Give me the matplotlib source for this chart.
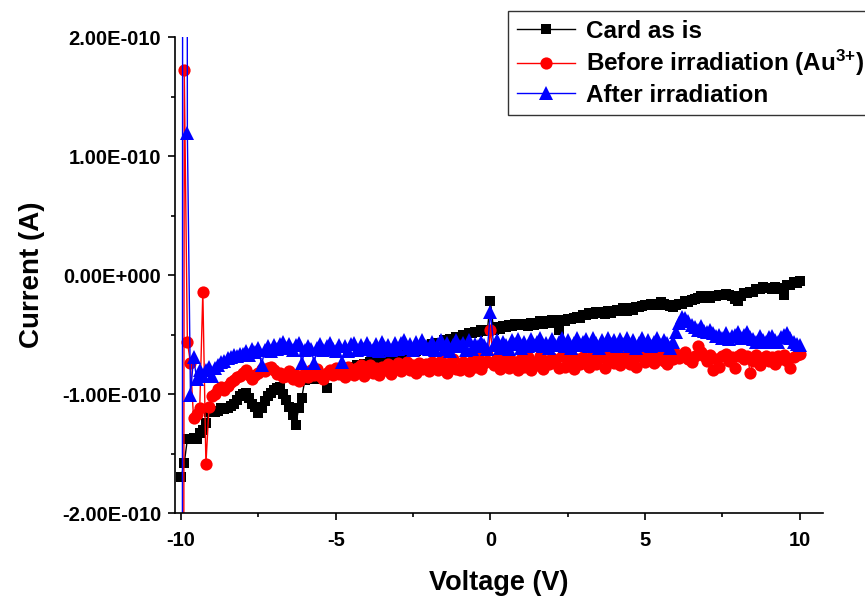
import numpy as np
import matplotlib
matplotlib.use("Agg")
import matplotlib.pyplot as plt
from matplotlib.ticker import MultipleLocator, FixedLocator, FixedFormatter

plt.rcParams['font.family'] = ['Liberation Sans', 'DejaVu Sans']
plt.rcParams['font.weight'] = 'bold'
plt.rcParams['mathtext.fontset'] = 'custom'
plt.rcParams['mathtext.rm'] = 'Liberation Sans:bold'
plt.rcParams['mathtext.bf'] = 'Liberation Sans:bold'
plt.rcParams['mathtext.default'] = 'bf'

# Voltage sweep, -10 V to +10 V in 0.1 V steps
voltage = np.round(np.arange(-100, 101) / 10.0, 1)

# Currents in units of 1e-10 A
card_as_is = [
    -1.70, -1.58, -1.38, -1.38, -1.37, -1.38, -1.33, -1.30, -1.24, -1.15,
    -1.14, -1.15, -1.14, -1.12, -1.13, -1.12, -1.10, -1.08, -1.05, -1.02,
    -1.00, -0.99, -1.03, -1.08, -1.11, -1.16, -1.12, -1.06, -1.02, -0.99,
    -0.97, -0.95, -0.94, -1.00, -1.05, -1.11, -1.18, -1.26, -1.12, -1.03,
    -0.88, -0.85, -0.86, -0.87, -0.85, -0.84, -0.86, -0.95, -0.84, -0.83,
    -0.82, -0.80, -0.81, -0.79, -0.80, -0.77, -0.78, -0.76, -0.77, -0.75,
    -0.75, -0.73, -0.74, -0.72, -0.73, -0.70, -0.71, -0.69, -0.70, -0.67,
    -0.68, -0.66, -0.67, -0.65, -0.65, -0.63, -0.64, -0.61, -0.62, -0.60,
    -0.60, -0.58, -0.59, -0.57, -0.57, -0.55, -0.56, -0.54, -0.54, -0.52,
    -0.52, -0.50, -0.51, -0.49, -0.49, -0.48, -0.48, -0.46, -0.47, -0.46,
    -0.22,
    -0.46, -0.44, -0.45, -0.43, -0.44, -0.42, -0.43, -0.41, -0.42, -0.42,
    -0.41, -0.43, -0.40, -0.42, -0.40, -0.39, -0.41, -0.39, -0.40, -0.38,
    -0.40, -0.46, -0.38, -0.39, -0.37, -0.37, -0.36, -0.35, -0.36, -0.34,
    -0.34, -0.32, -0.33, -0.31, -0.32, -0.31, -0.33, -0.30, -0.32, -0.30,
    -0.29, -0.30, -0.28, -0.30, -0.28, -0.29, -0.27, -0.27, -0.26, -0.25,
    -0.25, -0.24, -0.24, -0.25, -0.23, -0.24, -0.25, -0.26, -0.27, -0.25,
    -0.24, -0.24, -0.22, -0.23, -0.21, -0.20, -0.19, -0.18, -0.18, -0.19,
    -0.19, -0.18, -0.18, -0.17, -0.17, -0.16, -0.17, -0.18, -0.20, -0.22,
    -0.18, -0.15, -0.15, -0.14, -0.14, -0.12, -0.12, -0.10, -0.11, -0.11,
    -0.12, -0.10, -0.11, -0.12, -0.17, -0.08, -0.08, -0.06, -0.07, -0.05,
]

before_irradiation = [
    -25.0, 1.72, -0.56, -0.74, -1.20, -1.17, -1.12, -0.14, -1.59, -1.11,
    -1.02, -1.00, -0.96, -0.94, -0.97, -0.93, -0.90, -0.88, -0.86, -0.85,
    -0.82, -0.80, -0.84, -0.87, -0.84, -0.82, -0.79, -0.81, -0.78, -0.77,
    -0.80, -0.83, -0.82, -0.86, -0.85, -0.81, -0.87, -0.84, -0.89, -0.85,
    -0.82, -0.86, -0.80, -0.84, -0.79, -0.85, -0.87, -0.82, -0.80, -0.84,
    -0.78, -0.83, -0.79, -0.86, -0.77, -0.81, -0.84, -0.78, -0.76, -0.85,
    -0.79, -0.76, -0.82, -0.78, -0.84, -0.77, -0.80, -0.75, -0.83, -0.78,
    -0.74, -0.81, -0.77, -0.73, -0.80, -0.76, -0.82, -0.74, -0.79, -0.75,
    -0.81, -0.73, -0.77, -0.80, -0.72, -0.78, -0.82, -0.74, -0.71, -0.79,
    -0.80, -0.73, -0.76, -0.81, -0.72, -0.77, -0.70, -0.79, -0.74, -0.72,
    -0.46,
    -0.76, -0.70, -0.79, -0.73, -0.68, -0.78, -0.72, -0.75, -0.80, -0.71,
    -0.77, -0.69, -0.80, -0.73, -0.76, -0.68, -0.79, -0.72, -0.75, -0.70,
    -0.74, -0.78, -0.68, -0.77, -0.72, -0.67, -0.79, -0.71, -0.75, -0.69,
    -0.73, -0.77, -0.67, -0.75, -0.70, -0.66, -0.78, -0.71, -0.68, -0.74,
    -0.69, -0.76, -0.72, -0.66, -0.75, -0.70, -0.77, -0.68, -0.66, -0.73,
    -0.71, -0.66, -0.74, -0.69, -0.67, -0.72, -0.75, -0.68, -0.71, -0.66,
    -0.70, -0.67, -0.65, -0.71, -0.73, -0.68, -0.60, -0.65, -0.68, -0.72,
    -0.67, -0.80, -0.71, -0.77, -0.68, -0.66, -0.72, -0.69, -0.78, -0.68,
    -0.66, -0.71, -0.68, -0.82, -0.72, -0.67, -0.76, -0.70, -0.68, -0.72,
    -0.69, -0.75, -0.68, -0.71, -0.67, -0.72, -0.78, -0.69, -0.67, -0.66,
]

after_irradiation = [
    -30.0, 40.0, 1.19, -1.01, -0.69, -0.87, -0.80, -0.85, -0.80, -0.77,
    -0.85, -0.78, -0.76, -0.73, -0.72, -0.70, -0.69, -0.67, -0.68, -0.66,
    -0.66, -0.64, -0.67, -0.62, -0.65, -0.61, -0.76, -0.63, -0.60, -0.64,
    -0.59, -0.62, -0.58, -0.56, -0.61, -0.58, -0.63, -0.59, -0.57, -0.74,
    -0.63, -0.60, -0.62, -0.74, -0.61, -0.58, -0.63, -0.60, -0.57, -0.62,
    -0.64, -0.59, -0.73, -0.60, -0.64, -0.58, -0.57, -0.63, -0.59, -0.62,
    -0.57, -0.61, -0.63, -0.58, -0.64, -0.56, -0.61, -0.59, -0.63, -0.57,
    -0.62, -0.57, -0.55, -0.61, -0.58, -0.63, -0.56, -0.61, -0.55, -0.60,
    -0.62, -0.56, -0.63, -0.58, -0.55, -0.62, -0.57, -0.64, -0.59, -0.55,
    -0.60, -0.57, -0.63, -0.55, -0.62, -0.58, -0.60, -0.56, -0.59, -0.62,
    -0.31,
    -0.59, -0.55, -0.61, -0.56, -0.59, -0.62, -0.55, -0.58, -0.54, -0.61,
    -0.56, -0.60, -0.54, -0.59, -0.56, -0.53, -0.60, -0.57, -0.61, -0.54,
    -0.59, -0.56, -0.53, -0.60, -0.55, -0.61, -0.57, -0.53, -0.59, -0.56,
    -0.54, -0.60, -0.53, -0.57, -0.61, -0.55, -0.59, -0.53, -0.58, -0.55,
    -0.60, -0.54, -0.58, -0.53, -0.60, -0.55, -0.61, -0.57, -0.53, -0.59,
    -0.55, -0.60, -0.56, -0.53, -0.59, -0.55, -0.57, -0.61, -0.56, -0.48,
    -0.40, -0.35, -0.36, -0.39, -0.42, -0.44, -0.46, -0.43, -0.47, -0.48,
    -0.46, -0.49, -0.51, -0.50, -0.53, -0.49, -0.54, -0.51, -0.50, -0.48,
    -0.53, -0.50, -0.48, -0.52, -0.54, -0.56, -0.51, -0.55, -0.56, -0.52,
    -0.51, -0.55, -0.56, -0.52, -0.50, -0.49, -0.53, -0.56, -0.58, -0.59,
]

series_labels = ["Card as is", r"Before irradiation (Au$^{3{+}}$)", "After irradiation"]
current_unit = 1e-10

y_ticks = [-2e-10, -1e-10, 0.0, 1e-10, 2e-10]
y_tick_labels = ["-2.00E-010", "-1.00E-010", "0.00E+000", "1.00E-010", "2.00E-010"]
x_ticks = [-10, -5, 0, 5, 10]
x_tick_labels = ["-10", "-5", "0", "5", "10"]

fig = plt.figure(figsize=(8.65, 5.97), dpi=100)
ax = fig.add_axes([0.2023, 0.1407, 0.7491, 0.7973])

styles = [
    dict(color="black", marker="s", markersize=7.6),
    dict(color="red", marker="o", markersize=8.8),
    dict(color="blue", marker="^", markersize=10.0),
]
for vals, lab, st in zip([card_as_is, before_irradiation, after_irradiation], series_labels, styles):
    ax.plot(voltage, np.asarray(vals) * current_unit, linestyle="-", linewidth=1.0,
            markeredgewidth=0, label=lab, **st)

ax.set_xlim(-10.2, 10.75)
ax.set_ylim(-2e-10, 2e-10)

ax.xaxis.set_major_locator(FixedLocator(x_ticks))
ax.xaxis.set_major_formatter(FixedFormatter(x_tick_labels))
ax.xaxis.set_minor_locator(MultipleLocator(2.5))
ax.yaxis.set_major_locator(FixedLocator(y_ticks))
ax.yaxis.set_major_formatter(FixedFormatter(y_tick_labels))
ax.yaxis.set_minor_locator(MultipleLocator(0.5e-10))

for side in ("top", "right"):
    ax.spines[side].set_visible(False)
for side in ("left", "bottom"):
    ax.spines[side].set_linewidth(1.2)

ax.tick_params(which="major", direction="out", length=5, width=1.2, labelsize=14.5, pad=5)
ax.tick_params(axis="x", which="major", pad=8)
ax.tick_params(which="minor", direction="out", length=3, width=1.2)
for t in ax.get_xticklabels() + ax.get_yticklabels():
    t.set_fontweight("bold")

ax.set_xlabel("Voltage (V)", fontsize=19.5, fontweight="bold", labelpad=14)
ax.set_ylabel("Current (A)", fontsize=20, fontweight="bold", labelpad=12)

leg = fig.legend(loc="upper left", bbox_to_anchor=(508 / 865, 1 - 11 / 597),
                 borderaxespad=0, numpoints=1, fancybox=False, frameon=True,
                 edgecolor="black", prop=dict(family="Liberation Sans", weight="bold", size=17.5),
                 handlelength=2.4, handletextpad=0.45, labelspacing=0.22, borderpad=0.36)
leg.get_frame().set_linewidth(1.0)

fig.savefig("out.png", dpi=100)
